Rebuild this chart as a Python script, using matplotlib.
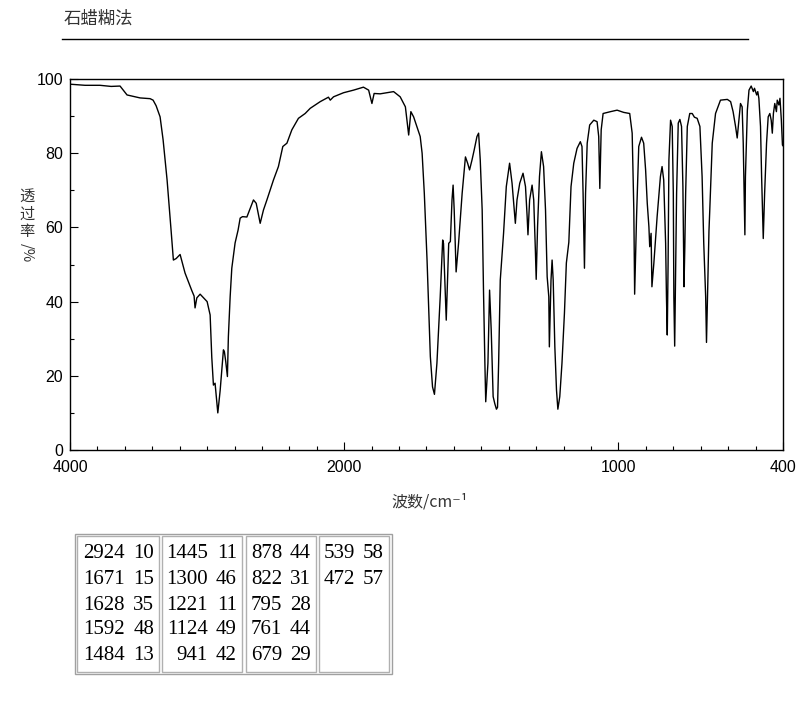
import numpy as np
import matplotlib
matplotlib.use('Agg')
import matplotlib.pyplot as plt
from matplotlib.lines import Line2D
from matplotlib.patches import Rectangle
from matplotlib.ticker import FixedLocator, NullFormatter
from matplotlib import font_manager

# ---------------- data ----------------
wavenumber = [
    4000, 3890, 3781, 3700, 3635, 3584, 3489, 3416, 3394, 3372, 3343, 3321, 3292, 3270,
    3263, 3246, 3226, 3197, 3161, 3112, 3095, 3088, 3075, 3051, 3000, 2978, 2966,
    2954, 2942, 2922, 2905, 2881, 2874, 2864, 2852, 2845, 2832, 2820, 2796, 2774,
    2759, 2742, 2710, 2662, 2642, 2613, 2589, 2564, 2516, 2480, 2448, 2418, 2382,
    2334, 2285, 2248, 2175, 2115, 2102, 2078, 2005, 1966, 1930, 1911, 1899, 1891,
    1869, 1820, 1796, 1777, 1765, 1757, 1747, 1723, 1716, 1708, 1698, 1686, 1678,
    1671, 1662, 1650, 1641, 1638, 1631, 1628, 1619, 1613, 1607, 1603, 1599, 1592,
    1583, 1570, 1558, 1550, 1543, 1534, 1526, 1516, 1510, 1504, 1497, 1492, 1487,
    1484, 1476, 1470, 1464, 1457, 1451, 1445, 1441, 1437, 1431, 1419, 1409, 1397,
    1388, 1382, 1376, 1370, 1360, 1348, 1339, 1333, 1330, 1324, 1315, 1309, 1303,
    1300, 1295, 1288, 1281, 1273, 1266, 1260, 1254, 1252, 1246, 1242, 1238, 1232,
    1226, 1221, 1214, 1206, 1197, 1190, 1181, 1173, 1163, 1151, 1139, 1133, 1129,
    1124, 1120, 1114, 1105, 1090, 1078, 1072, 1068, 1063, 1056, 1029, 1005, 981,
    959, 950, 944, 941, 934, 926, 916, 908, 901, 895, 889, 886, 881, 878, 871, 865,
    859, 847, 841, 835, 828, 825, 822, 819, 816, 810, 804, 800, 798, 795, 792, 788,
    782, 776, 770, 765, 761, 758, 755, 749, 740, 731, 723, 713, 703, 695, 689, 682,
    679, 674, 670, 667, 658, 646, 628, 603, 591, 582, 573, 567, 561, 555, 549, 545,
    539, 537, 530, 524, 516, 508, 504, 496, 492, 488, 482, 478, 472, 467, 460, 454,
    448, 443, 439, 435, 430, 424, 421, 415, 411, 406, 402, 400,
]
transmittance = [
    98.6, 98.3, 98.3, 98.0, 98.1, 95.7, 94.9, 94.7, 94.3, 92.8, 89.8, 83.6, 72.8, 62.8,
    59.3, 51.2, 51.6, 52.7, 47.7, 43.0, 41.5, 38.3, 41.0, 42.0, 40.0, 36.4, 25.0,
    17.5, 18.0, 10.0, 16.0, 27.0, 26.5, 23.8, 19.8, 30.5, 41.3, 49.0, 55.8, 59.3,
    62.5, 62.9, 62.8, 67.4, 66.5, 61.1, 64.7, 67.4, 72.8, 76.4, 81.8, 82.7, 86.3,
    89.4, 90.7, 92.1, 93.9, 95.1, 94.3, 95.2, 96.3, 97.0, 97.8, 97.0, 93.4, 96.1,
    96.0, 96.6, 95.2, 92.5, 84.9, 91.2, 89.8, 84.5, 80.0, 69.2, 51.2, 25.2, 17.0,
    15.0, 23.4, 41.3, 56.6, 55.7, 41.3, 35.0, 55.7, 56.2, 67.4, 71.4, 64.7, 48.0,
    55.8, 69.2, 79.0, 77.3, 75.5, 78.2, 80.9, 84.5, 85.4, 78.2, 64.7, 42.3, 23.0,
    13.0, 23.4, 43.1, 32.3, 14.4, 12.5, 11.0, 11.5, 23.4, 45.8, 58.4, 71.0, 77.3,
    71.9, 66.5, 61.1, 67.4, 71.9, 74.6, 71.0, 62.9, 58.0, 67.4, 71.4, 67.4, 53.9,
    46.0, 60.2, 73.7, 80.4, 76.4, 64.7, 46.7, 41.3, 27.8, 45.8, 51.2, 45.8, 27.8,
    16.2, 11.0, 14.4, 23.4, 36.9, 50.4, 56.0, 71.0, 77.3, 81.3, 83.1, 81.8, 69.2,
    49.0, 69.2, 82.7, 87.6, 88.9, 88.5, 84.5, 70.5, 86.3, 90.7, 91.2, 91.6, 91.0,
    90.7, 85.4, 64.7, 42.0, 62.9, 81.8, 84.3, 82.7, 75.5, 66.5, 60.2, 54.8, 58.4,
    44.0, 50.3, 56.6, 62.9, 73.7, 76.4, 72.8, 55.7, 41.3, 31.0, 50.4, 78.2, 88.9,
    87.2, 69.2, 41.3, 28.0, 45.8, 69.2, 88.1, 89.1, 87.2, 71.0, 44.0, 54.8, 69.2,
    87.2, 90.7, 90.7, 89.7, 89.4, 87.2, 73.7, 55.7, 41.3, 29.0, 45.8, 59.0, 64.7,
    82.7, 90.7, 94.3, 94.5, 93.9, 91.2, 87.2, 84.1, 88.9, 93.4, 92.5, 82.7, 58.0,
    73.7, 91.6, 97.0, 98.1, 96.6, 97.5, 95.7, 96.6, 94.8, 87.2, 73.7, 57.0, 69.2,
    82.7, 89.8, 90.7, 88.9, 85.4, 90.7, 93.4, 91.2, 94.3, 93.0, 94.8, 88.9, 82.2, 82.0,
]

peak_wn = [2924, 1671, 1628, 1592, 1484, 1445, 1300, 1221, 1124, 941,
           878, 822, 795, 761, 679, 539, 472]
peak_t = [10, 15, 35, 48, 13, 11, 46, 11, 49, 42, 44, 31, 28, 44, 29, 58, 57]

x_major = [4000, 2000, 1000, 400]
x_minor = [3800, 3600, 3400, 3200, 3000, 2800, 2600, 2400, 2200,
           1900, 1800, 1700, 1600, 1500, 1400, 1300, 1200, 1100,
           900, 800, 700, 600, 500]
y_major = [0, 20, 40, 60, 80, 100]
y_minor = [10, 30, 50, 70, 90]

title_text = "石蜡糊法"
xlabel_text = "波数/cm⁻¹"
ylabel_cjk = "透\n过\n率"
ylabel_unit = "/%"

# ---------------- fonts ----------------
names = {f.name for f in font_manager.fontManager.ttflist}
if 'Liberation Sans Narrow' in names:
    tick_font, tick_size = 'Liberation Sans Narrow', 12.5
else:
    tick_font, tick_size = 'Liberation Sans', 11.5
cjk = ['Noto Sans CJK SC', 'DejaVu Sans']
serif = 'Liberation Serif' if 'Liberation Serif' in names else 'DejaVu Serif'

W, H = 809, 705
fig = plt.figure(figsize=(W / 100, H / 100), dpi=100)


def fx(px):
    return px / W


def fy(py):
    return 1 - py / H


ax = fig.add_axes([fx(70), fy(450), fx(783) - fx(70), fy(79) - fy(450)])


def fwd(w):
    w = np.asarray(w, dtype=float)
    return np.where(w <= 2000, w, 2000 + (w - 2000) / 2)


def inv(g):
    g = np.asarray(g, dtype=float)
    return np.where(g <= 2000, g, 2000 + (g - 2000) * 2)


ax.set_xscale('function', functions=(fwd, inv))
ax.plot(wavenumber, transmittance, color='black', lw=1.0)
ax.set_xlim(4000, 400)
ax.set_ylim(0, 100)

ax.xaxis.set_major_locator(FixedLocator(x_major))
ax.xaxis.set_minor_locator(FixedLocator(x_minor))
ax.xaxis.set_minor_formatter(NullFormatter())
ax.set_xticklabels([str(v) for v in x_major])
ax.yaxis.set_major_locator(FixedLocator(y_major))
ax.yaxis.set_minor_locator(FixedLocator(y_minor))
ax.set_yticklabels([str(v) for v in y_major])

ax.tick_params(axis='both', which='both', direction='in', top=False, right=False,
               width=0.8, color='black')
ax.tick_params(axis='both', which='major', length=5.5)
ax.tick_params(axis='both', which='minor', length=3.0)
ax.tick_params(axis='x', which='major', pad=7)
ax.tick_params(axis='y', which='major', pad=5)
for lab in ax.get_xticklabels() + ax.get_yticklabels():
    lab.set_fontfamily(tick_font)
    lab.set_fontsize(tick_size)
for s in ax.spines.values():
    s.set_linewidth(1.0)

# title and rule
fig.text(fx(64), fy(19), title_text, family=cjk, fontsize=12.5, color='#333333',
         ha='left', va='center')
fig.add_artist(Line2D([fx(62), fx(748)], [fy(38.5), fy(38.5)], color='black', lw=1.0))

# y label: upright CJK stacked, "/%" rotated
fig.text(fx(27), fy(214), ylabel_cjk, family=cjk, fontsize=11, color='#333333',
         ha='center', va='center', linespacing=1.05)
fig.text(fx(27), fy(253), ylabel_unit, family=cjk, fontsize=10.5, color='#333333',
         rotation=-90, ha='center', va='center')

# x label
fig.text(fx(430), fy(502), xlabel_text, family=cjk, fontsize=11.5, color='#333333',
         ha='center', va='center')

# peak table
cells = [(76, 160), (161, 243), (245, 317), (318, 390)]
top, bottom = 536, 672
fig.add_artist(Rectangle((fx(75), fy(674)), fx(392) - fx(75), fy(534) - fy(674),
                         fill=False, edgecolor='#a0a0a0', lw=1.0))
for (x0, x1) in cells:
    fig.add_artist(Rectangle((fx(x0 + 1), fy(bottom)), fx(x1 - 1) - fx(x0 + 1),
                             fy(top) - fy(bottom), fill=False, edgecolor='#b0b0b0', lw=1.0))
row_y = [553, 579, 605, 630, 655]
for i, (w, t) in enumerate(zip(peak_wn, peak_t)):
    col, row = divmod(i, 5)
    x1 = cells[col][1]
    fig.text(fx(x1 - 6), fy(row_y[row]), f"{t}", family=serif, fontsize=15,
             color='black', ha='right', va='center')
    fig.text(fx(x1 - 35), fy(row_y[row]), f"{w}", family=serif, fontsize=15,
             color='black', ha='right', va='center')

fig.savefig('out.png', dpi=100)
